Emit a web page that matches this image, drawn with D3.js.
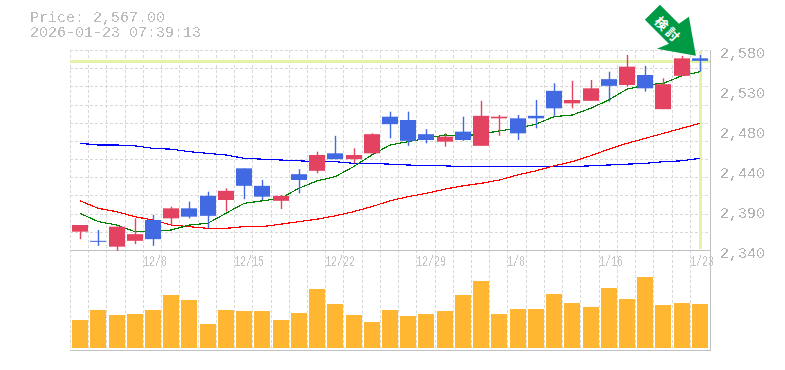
<!DOCTYPE html>
<html>
<head>
<meta charset="utf-8">
<script src="https://cdn.jsdelivr.net/npm/d3@7/dist/d3.min.js"></script>
<style>
html, body { margin: 0; padding: 0; background: #fff; }
svg { display: block; }
text { font-family: "Liberation Mono", monospace; }
</style>
</head>
<body>
<svg id="chart" width="785" height="370"></svg>
<script>
// Daily candles, oldest first
const opens  = [2362,2351,2344,2351,2376,2378,2390,2405,2400,2438,2417,2399,2431,2435,2456,2449,2456,2500,2496,2479,2470,2482,2465,2498,2498,2501,2531,2516,2519,2545,2538,2550,2509,2549,2570];
const closes = [2370,2350,2368,2359,2353,2390,2380,2381,2411,2417,2404,2405,2424,2454,2449,2454,2479,2491,2471,2472,2476,2472,2501,2500,2480,2498,2510,2520,2534,2537,2560,2534,2539,2570,2567];
const highs  = [2370,2364,2368,2378,2382,2392,2398,2410,2414,2438,2424,2406,2437,2458,2477,2462,2480,2506,2506,2485,2480,2500,2519,2502,2502,2520,2540,2543,2544,2554,2574,2561,2546,2573,2574];
const lows   = [2353,2345,2339,2347,2345,2370,2378,2366,2386,2401,2400,2389,2408,2432,2449,2444,2456,2474,2465,2468,2464,2471,2465,2477,2472,2486,2501,2510,2519,2518,2536,2530,2509,2549,2554];

// Moving averages
const maShort = [2384,2374,2370,2362,2362,2364,2370,2372,2384,2396,2399,2402,2414,2423,2428,2440,2454,2466,2470,2474,2478,2477,2479,2483,2486,2491,2500,2502,2510,2520,2533,2538,2540,2549,2554];
const maMid   = [2399,2390,2386,2380,2376,2370,2368,2366,2366,2368,2368,2371,2374,2377,2381,2386,2392,2399,2404,2408,2413,2417,2420,2424,2430,2435,2441,2446,2453,2461,2468,2474,2480,2486,2492];
const maLong  = [2468,2466,2466,2465,2462,2461,2458,2456,2454,2450,2449,2448,2447,2446,2446,2444,2444,2443,2442,2441,2441,2440,2440,2440,2440,2440,2440,2440,2441,2442,2443,2444,2446,2447,2450];

// Volume, arbitrary units
const volumes = [28,38,33,34,38,53,48,24,38,37,37,28,35,59,44,33,26,38,32,34,37,53,67,34,39,39,54,45,41,60,49,71,43,45,44];

// Tick labels
const priceTicks = [2580,2532,2484,2436,2388,2340];
const priceLabels = ["2,580","2,530","2,480","2,440","2,390","2,340"];
const dateTickIndex = [4,9,14,19,24,29,34];
const dateLabels = ["12/8","12/15","12/22","12/29","1/8","1/16","1/23"];

const currentPrice = 2567;
const headerLines = ["Price: 2,567.00","2026-01-23 07:39:13"];
const arrowLabel = ["検","討"];

const svg = d3.select("#chart");

// Scales
let x = d3.scaleBand().domain(d3.range(35)).range([71, 709]);
let y = d3.scaleLinear().domain([2340, 2580]).range([250, 50]);
let yGrid = d3.scaleLinear().domain([0, 11]).range([250, 50]);
let yVol = d3.scaleLinear().domain([0, 100]).range([348, 248]);
let cx = i => x(i) + x.step() / 2;
let barW = 16;

// Threshold filter so the text comes out jagged like the original
let defs = svg.append("defs");
defs.append("filter").attr("id", "hard")
    .attr("x", 0).attr("y", 0).attr("width", 1).attr("height", 1)
    .append("feComponentTransfer")
    .append("feFuncA").attr("type", "discrete").attr("tableValues", "0 0 1 1");

// Grid
let grid = svg.append("g")
    .attr("stroke", "#d8d8d8")
    .attr("stroke-dasharray", "3,2")
    .attr("shape-rendering", "crispEdges");
grid.selectAll(".h").data(d3.range(1, 12)).enter().append("line")
    .attr("x1", 70).attr("x2", 710)
    .attr("y1", d => Math.round(yGrid(d)) + 0.5)
    .attr("y2", d => Math.round(yGrid(d)) + 0.5);
grid.selectAll(".v").data(d3.range(35)).enter().append("line")
    .attr("x1", d => Math.round(x(d)) - 0.5)
    .attr("x2", d => Math.round(x(d)) - 0.5)
    .attr("y1", 50).attr("y2", 350);

// Frame
let frame = svg.append("g").attr("stroke", "#c0c0c0").attr("shape-rendering", "crispEdges");
frame.append("line").attr("x1", 70).attr("x2", 711).attr("y1", 250.5).attr("y2", 250.5);
frame.append("line").attr("x1", 70).attr("x2", 711).attr("y1", 350.5).attr("y2", 350.5);
frame.append("line").attr("x1", 710.5).attr("x2", 710.5).attr("y1", 50).attr("y2", 351);

// Current price highlight
let hl = svg.append("g").attr("stroke", "#e3f4a8").attr("stroke-width", 3).attr("shape-rendering", "crispEdges");
hl.append("line").attr("x1", 70).attr("x2", 710).attr("y1", Math.round(y(currentPrice))).attr("y2", Math.round(y(currentPrice)));
hl.append("line").attr("x1", cx(34) + 0.5).attr("x2", cx(34) + 0.5).attr("y1", 51).attr("y2", 249);

// Volume bars
svg.selectAll(".vol").data(volumes).enter().append("rect")
    .attr("class", "vol")
    .attr("x", (d, i) => Math.round(cx(i) - barW / 2))
    .attr("width", barW)
    .attr("y", d => yVol(d))
    .attr("height", d => yVol(0) - yVol(d))
    .attr("fill", "#ffb732");

// Moving average lines
let lineGen = d3.line().x((d, i) => cx(i)).y(d => y(d));
[[maLong, "#0000ff"], [maMid, "#ff0000"], [maShort, "#008000"]].forEach(function(s) {
    svg.append("path")
        .attr("d", lineGen(s[0]))
        .attr("fill", "none")
        .attr("stroke", s[1])
        .attr("stroke-width", 1.2)
        .attr("shape-rendering", "crispEdges");
});

// Candles
let colorOf = i => closes[i] >= opens[i] ? "#e34360" : "#4169e1";
let candles = svg.selectAll(".candle").data(d3.range(35)).enter().append("g").attr("class", "candle");
candles.append("line")
    .attr("x1", i => Math.round(cx(i)) + 0.5).attr("x2", i => Math.round(cx(i)) + 0.5)
    .attr("y1", i => y(highs[i])).attr("y2", i => y(lows[i]))
    .attr("stroke", colorOf)
    .attr("stroke-width", 1.4);
candles.append("rect")
    .attr("x", i => Math.round(cx(i) - barW / 2))
    .attr("width", barW)
    .attr("y", i => y(Math.max(opens[i], closes[i])))
    .attr("height", i => Math.max(1, Math.abs(y(opens[i]) - y(closes[i]))))
    .attr("fill", colorOf);

// Price axis
let priceAxis = d3.axisRight(y).tickValues(priceTicks).tickSize(0).tickPadding(0)
    .tickFormat((d, i) => priceLabels[i]);
let pa = svg.append("g").attr("transform", "translate(720,3)").attr("filter", "url(#hard)").call(priceAxis);
pa.select(".domain").remove();
pa.selectAll("text").attr("font-size", 15).attr("fill", "#b4b4b4").style("font-family", '"Liberation Mono", monospace');

// Date labels
svg.append("g").attr("filter", "url(#hard)").selectAll(".date").data(dateLabels).enter().append("text")
    .attr("x", (d, i) => Math.round(x(dateTickIndex[i])) - 1)
    .attr("y", 266)
    .attr("font-size", 15)
    .attr("fill", "#c4c4c4")
    .attr("textLength", d => d.length * 6)
    .attr("lengthAdjust", "spacingAndGlyphs")
    .text(d => d);

// Header
svg.append("g").attr("filter", "url(#hard)").selectAll(".head").data(headerLines).enter().append("text")
    .attr("x", 30)
    .attr("y", (d, i) => 22 + i * 15)
    .attr("font-size", 15)
    .attr("fill", "#bcbcbc")
    .text(d => d);

// Arrow pointing at the last candle, positioned from its tip
let tipX = cx(34) - 4, tipY = y(currentPrice) - 5;
let arrow = svg.append("g").attr("transform", "translate(" + tipX + "," + tipY + ")");
arrow.append("path")
    .attr("d", "M0,0L-39,-7L-27,-12L-51,-36L-36,-51L-17,-32L-7,-39Z")
    .attr("fill", "#009944");
arrow.selectAll("text").data(arrowLabel).enter().append("text")
    .attr("transform", (d, i) => "translate(" + (-34 + i * 11) + "," + (-33 + i * 11) + ") rotate(45)")
    .attr("text-anchor", "middle")
    .attr("dominant-baseline", "central")
    .attr("font-size", 13)
    .attr("font-weight", "bold")
    .attr("fill", "#fff")
    .style("font-family", '"Noto Sans CJK JP"')
    .text(d => d);
</script>
</body>
</html>
